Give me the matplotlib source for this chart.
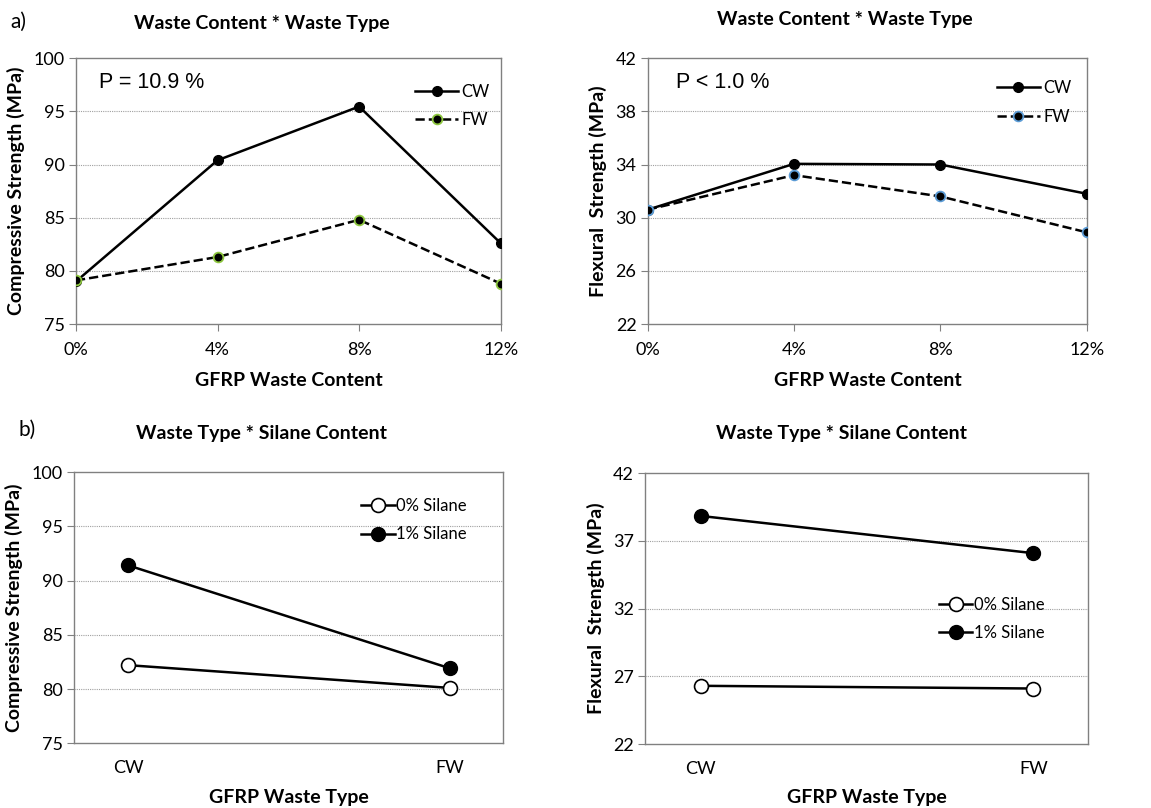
import matplotlib
matplotlib.use('Agg')
import matplotlib.pyplot as plt

# top row: waste content vs waste type
content_labels = ['0%', '4%', '8%', '12%']
comp_cw = [79.0, 90.4, 95.45, 82.6]
comp_fw = [79.1, 81.3, 84.8, 78.8]
flex_cw = [30.6, 34.05, 34.0, 31.8]
flex_fw = [30.6, 33.2, 31.6, 28.9]

# bottom row: waste type vs silane content
type_labels = ['CW', 'FW']
comp_s0 = [82.2, 80.1]
comp_s1 = [91.4, 81.9]
flex_s0 = [26.3, 26.1]
flex_s1 = [38.85, 36.1]

plt.rcParams['font.family'] = ['Lato', 'DejaVu Sans']

fig = plt.figure(figsize=(11.51, 8.08), dpi=100)

ax_tl = fig.add_axes([0.066, 0.599, 0.369, 0.329])
ax_tr = fig.add_axes([0.5627, 0.599, 0.3814, 0.329])
ax_bl = fig.add_axes([0.0643, 0.0801, 0.373, 0.3357])
ax_br = fig.add_axes([0.5604, 0.0792, 0.3851, 0.335])


def style_axes(ax, ylim, yticks, grid):
    ax.set_ylim(*ylim)
    ax.set_yticks(yticks)
    for y in grid:
        ax.axhline(y, color='#a0a0a0', lw=0.8, ls=(0, (1, 1)), zorder=0)
    for s in ax.spines.values():
        s.set_color('#808080')
        s.set_linewidth(1.0)
    ax.tick_params(axis='y', length=5, color='#808080', labelsize=13, pad=3)
    ax.tick_params(axis='x', labelsize=13)


x_top = list(range(len(content_labels)))

# top left
ax = ax_tl
ax.plot(x_top, comp_cw, '-', color='black', lw=1.8, marker='o', ms=7,
        mfc='black', mec='black', label='CW', zorder=3)
ax.plot(x_top, comp_fw, '--', color='black', lw=1.8, marker='o', ms=7,
        mfc='black', mec='#8dc63f', mew=1.3, label='FW', zorder=3)
ax.set_xlim(0, 3)
ax.set_xticks(x_top)
ax.set_xticklabels(content_labels)
style_axes(ax, (75, 100), [75, 80, 85, 90, 95, 100], [80, 85, 90, 95])
ax.tick_params(axis='x', length=5, color='#808080', pad=8)
ax.set_ylabel('Compressive Strength (MPa)', fontsize=14, fontweight='bold', labelpad=6)
ax.text(0.055, 0.91, 'P = 10.9 %', transform=ax.transAxes, fontsize=15.5,
        family='Liberation Sans', va='center')
ax.legend(loc='upper right', bbox_to_anchor=(1.01, 0.96), frameon=False,
          fontsize=12, handlelength=2.6, handletextpad=0.2, labelspacing=0.75)

# top right
ax = ax_tr
ax.plot(x_top, flex_cw, '-', color='black', lw=1.8, marker='o', ms=7,
        mfc='black', mec='black', label='CW', zorder=3)
ax.plot(x_top, flex_fw, '--', color='black', lw=1.8, marker='o', ms=7,
        mfc='black', mec='#5b9bd5', mew=1.3, label='FW', zorder=3)
ax.set_xlim(0, 3)
ax.set_xticks(x_top)
ax.set_xticklabels(content_labels)
style_axes(ax, (22, 42), [22, 26, 30, 34, 38, 42], [26, 30, 34, 38])
ax.tick_params(axis='x', length=5, color='#808080', pad=8)
ax.set_ylabel('Flexural  Strength (MPa)', fontsize=14, fontweight='bold', labelpad=6)
ax.text(0.065, 0.91, 'P < 1.0 %', transform=ax.transAxes, fontsize=15.5,
        family='Liberation Sans', va='center')
ax.legend(loc='upper right', bbox_to_anchor=(1.0, 0.975), frameon=False,
          fontsize=12, handlelength=2.6, handletextpad=0.2, labelspacing=0.8)

x_bot = list(range(len(type_labels)))

# bottom left
ax = ax_bl
ax.plot(x_bot, comp_s0, '-', color='black', lw=1.8, marker='o', ms=10,
        mfc='white', mec='black', mew=1.2, label='0% Silane', zorder=3)
ax.plot(x_bot, comp_s1, '-', color='black', lw=1.8, marker='o', ms=10,
        mfc='black', mec='black', label='1% Silane', zorder=3)
ax.set_xlim(-0.168, 1.165)
ax.set_xticks(x_bot)
ax.set_xticklabels(type_labels)
style_axes(ax, (75, 100), [75, 80, 85, 90, 95, 100], [80, 85, 90, 95])
ax.tick_params(axis='x', length=0, pad=12)
ax.set_ylabel('Compressive Strength (MPa)', fontsize=14, fontweight='bold', labelpad=6)
ax.legend(loc='upper right', bbox_to_anchor=(0.95, 0.96), frameon=False,
          fontsize=12, handlelength=2.0, handletextpad=0.1, labelspacing=0.75)

# bottom right
ax = ax_br
ax.plot(x_bot, flex_s0, '-', color='black', lw=1.8, marker='o', ms=10,
        mfc='white', mec='black', mew=1.2, label='0% Silane', zorder=3)
ax.plot(x_bot, flex_s1, '-', color='black', lw=1.8, marker='o', ms=10,
        mfc='black', mec='black', label='1% Silane', zorder=3)
ax.set_xlim(-0.168, 1.165)
ax.set_xticks(x_bot)
ax.set_xticklabels(type_labels)
style_axes(ax, (22, 42), [22, 27, 32, 37, 42], [27, 32, 37])
ax.tick_params(axis='x', length=0, pad=12)
ax.set_ylabel('Flexural  Strength (MPa)', fontsize=14, fontweight='bold', labelpad=6)
ax.legend(loc='upper right', bbox_to_anchor=(0.935, 0.60), frameon=False,
          fontsize=12, handlelength=2.0, handletextpad=0.1, labelspacing=0.75)

# titles, panel letters and x labels
fig.text(262 / 1151, 1 - 23 / 808, 'Waste Content * Waste Type', ha='center', va='center',
         fontsize=14, fontweight='bold')
fig.text(845 / 1151, 1 - 20 / 808, 'Waste Content * Waste Type', ha='center', va='center',
         fontsize=14, fontweight='bold')
fig.text(261 / 1151, 1 - 433 / 808, 'Waste Type * Silane Content', ha='center', va='center',
         fontsize=14, fontweight='bold')
fig.text(842 / 1151, 1 - 433 / 808, 'Waste Type * Silane Content', ha='center', va='center',
         fontsize=14, fontweight='bold')
fig.text(10 / 1151, 1 - 22 / 808, 'a)', ha='left', va='center', fontsize=15)
fig.text(18 / 1151, 1 - 430 / 808, 'b)', ha='left', va='center', fontsize=15)

fig.text(289 / 1151, 1 - 380 / 808, 'GFRP Waste Content', ha='center', va='center',
         fontsize=14, fontweight='bold')
fig.text(868 / 1151, 1 - 380 / 808, 'GFRP Waste Content', ha='center', va='center',
         fontsize=14, fontweight='bold')
fig.text(289 / 1151, 1 - 797 / 808, 'GFRP Waste Type', ha='center', va='center',
         fontsize=14, fontweight='bold')
fig.text(867 / 1151, 1 - 797 / 808, 'GFRP Waste Type', ha='center', va='center',
         fontsize=14, fontweight='bold')

fig.savefig('out.png', dpi=100)
